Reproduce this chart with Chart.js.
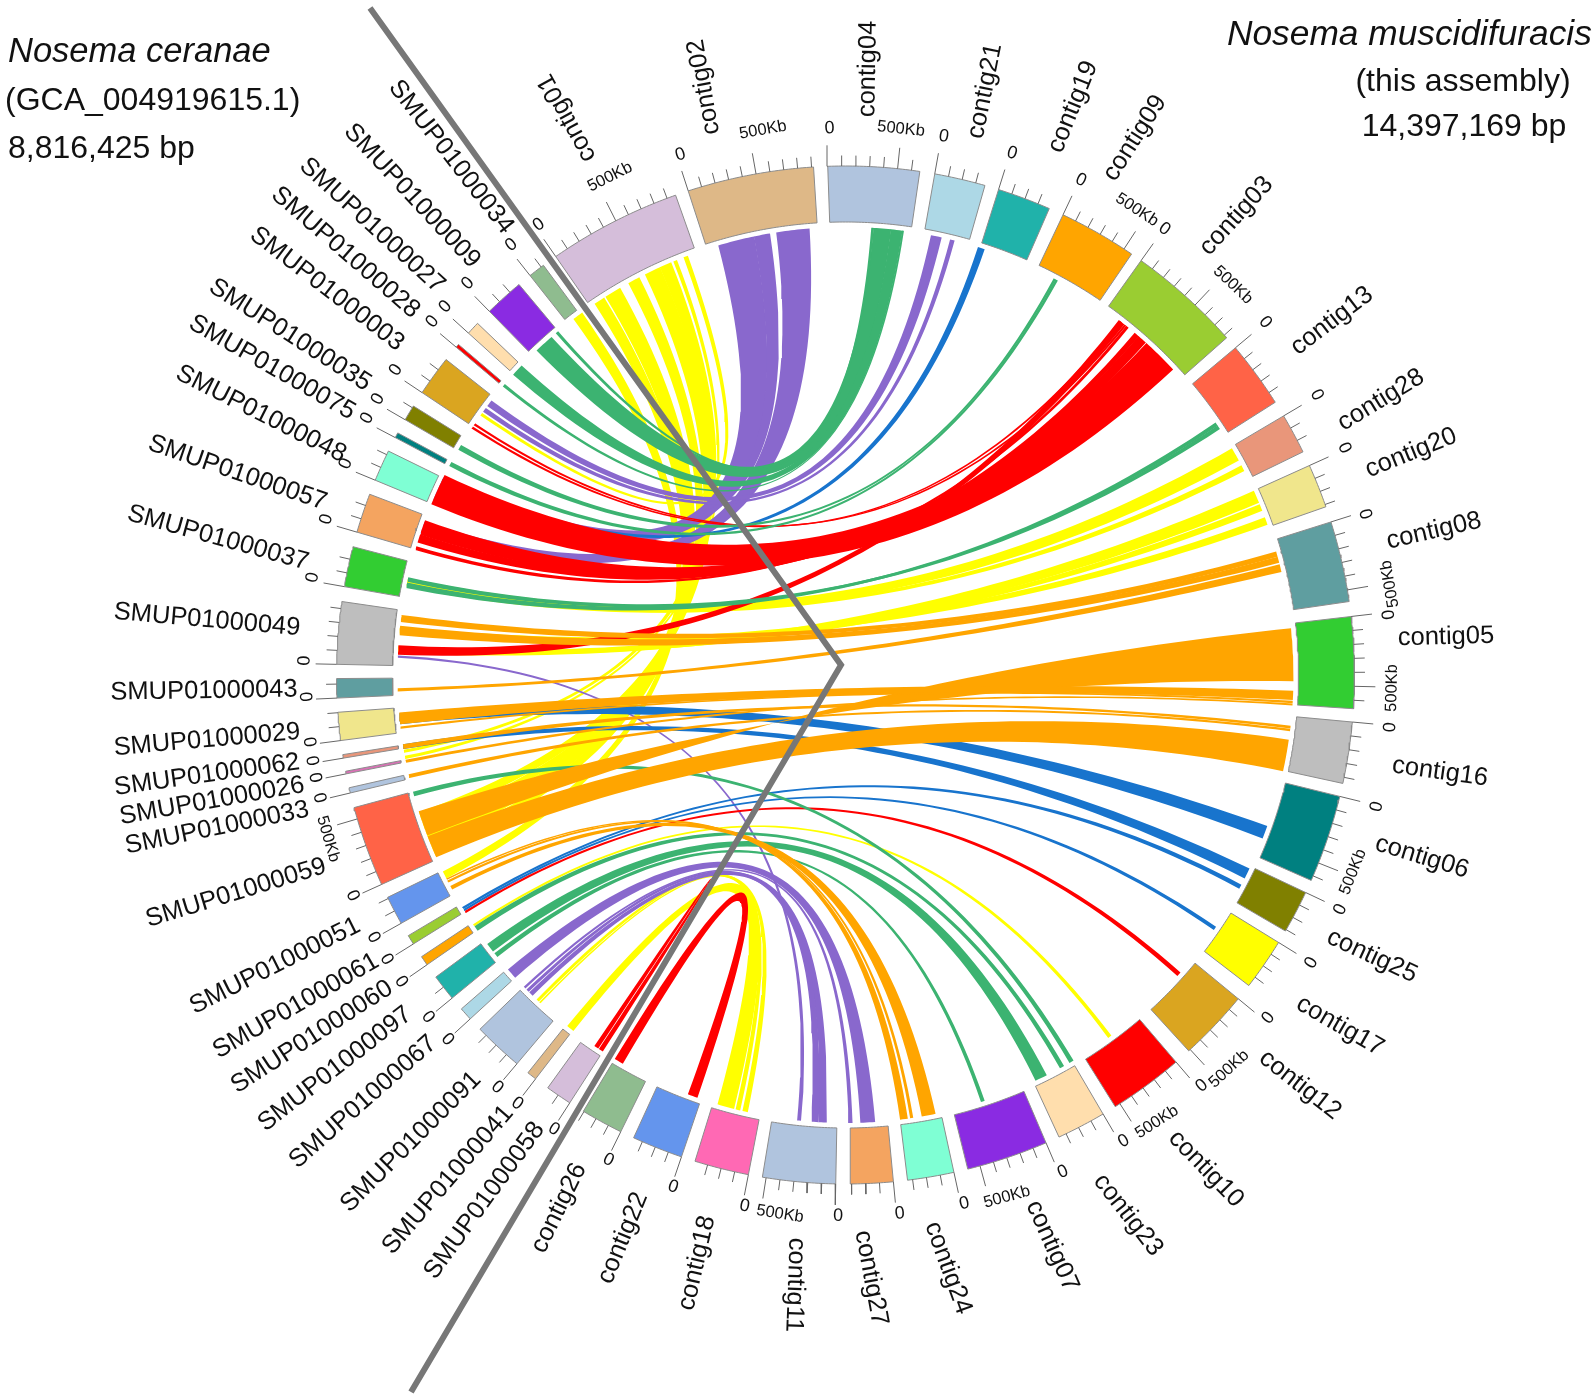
<!DOCTYPE html>
<html>
<head>
<meta charset="utf-8">
<script src="https://cdn.jsdelivr.net/npm/chart.js@4/dist/chart.umd.min.js"></script>
<style>
  html, body { margin: 0; padding: 0; background: #fff; }
  canvas { display: block; }
</style>
</head>
<body>
<canvas id="chart" width="1595" height="1394"></canvas>
<script>
// sectors, clockwise, angles in degrees from 12 o'clock
const sectorNames = ['contig01','contig02','contig04','contig21','contig19','contig09','contig03','contig13','contig28','contig20','contig08','contig05','contig16','contig06','contig25','contig17','contig12','contig10','contig23','contig07','contig24','contig27','contig11','contig18','contig22','contig26','SMUP01000058','SMUP01000041','SMUP01000091','SMUP01000067','SMUP01000097','SMUP01000060','SMUP01000061','SMUP01000051','SMUP01000059','SMUP01000033','SMUP01000026','SMUP01000062','SMUP01000029','SMUP01000043','SMUP01000049','SMUP01000037','SMUP01000057','SMUP01000048','SMUP01000075','SMUP01000035','SMUP01000003','SMUP01000028','SMUP01000027','SMUP01000009','SMUP01000034'];
const sectorStart = [-34.7,-18,-2,10.1,17.5,25.3,35.5,50,59.4,65.7,72.5,83.4,95.3,103.8,115.3,121.7,129.5,139.5,149.6,156.8,167.7,174.6,181.1,191,198.8,206.2,212.8,217.5,220.2,227.5,230.6,235.3,238.1,240.8,245.7,256.6,258.8,260.6,262.6,267.4,271.2,280,286.3,292.5,297.8,300.1,303.7,310.1,312.2,315.6,321.7];
const sectorEnd = [-19.5,-3.6,8.4,15.9,23.6,34.2,48.5,57.6,64,70.7,81.7,93.8,102.3,113.8,120.2,127.6,137.6,148,155.2,166.1,173,179.4,189.4,197.2,204.6,211,215.8,218.6,225.9,229,233.6,236.4,239.2,244.1,254.9,257.2,259.1,261,265.8,269.6,278.3,284.6,290.8,296.1,298.4,301.9,308.3,310.5,313.7,320.1,323.6];
const sectorColors = ['#D5BEDA','#DEB887','#B0C4DE','#ADD8E6','#20B2AA','#FFA500','#9ACD32','#FF6347','#E9967A','#F0E68C','#5F9EA0','#32CD32','#BEBEBE','#008080','#808000','#FFFF00','#DAA520','#FF0000','#FFDEAD','#8A2BE2','#7FFFD4','#F4A460','#B0C4DE','#FF69B4','#6495ED','#8FBC8F','#D5BEDA','#DEB887','#B0C4DE','#ADD8E6','#20B2AA','#FFA500','#9ACD32','#6495ED','#FF6347','#B0C4DE','#DA70B6','#E9967A','#F0E68C','#5F9EA0','#BEBEBE','#32CD32','#F4A460','#7FFFD4','#008080','#808000','#DAA520','#FF0000','#FFDEAD','#8A2BE2','#8FBC8F'];

// links: [from start, from end, to start, to end, twisted?], degrees
const yellowLinks = [
  [-34.06,-32.6,246.2,247.6],[-32.4,-30.2,247.8,249.6],[-29,-27.4,249.8,250.8],[-26.6,-24.45,251,252.2],
  [-24.5,-22.9,260,260.4],[-22.6,-22.1,259.2,259.6],[-21.2,-20.6,305.4,305.8],[322.6,324,243,244],
  [59.6,61.4,281.3,282.5],[62.1,62.9,281.6,282.2],[65.7,67.4,272.8,273.6],[67.6,68.5,273,273.7],[69.4,70.4,275.3,276.2],
  [143.6,144.1,235.9,236.2],[192.6,193.3,222.9,223.1],[193.6,194.2,223.2,223.6],[194.4,196.6,217.4,218.4]
];
const purpleLinks = [
  [-16.5,-11.75,293,295.4],[-11.8,-9.7,295.5,296.2],[-8.9,-4.6,288.4,290],[11,12.4,306.9,307.8],[13.5,14.1,306,306.6],
  [185.7,186.2,272.2,272.5],[182.4,183.5,224.3,224.9],[183.45,184.4,225,225.4],[176.2,178.1,227.5,228.9],[179.1,179.6,225.6,225.9]
];
const blueLinks = [
  [17.2,18.1,295.6,296.1],[109.7,111.4,263.7,265.1],[115.6,117,260.5,261.1],[117.9,118.5,238.5,238.8],[124.2,124.7,238.2,238.5]
];
const redLinks = [
  [37.6,38.5,272.6,273.8],[38.5,38.8,303.9,304.2],[37.8,38.1,303.4,303.7],[38.8,39.2,286.2,286.7],[40.2,40.9,287.2,288.3],
  [40.85,42.1,288.25,290.2],[42.2,47,292.4,296.5],[131.6,132.2,237.9,238.2],[199.3,200.6,209.8,211],[212.8,213.4,213.5,214.1]
];
const greenLinks = [
  [3.6,5.85,316.4,319],[3.3,3.65,319.7,320.1],[5.8,7.3,312.1,313.7],[7.25,7.5,310.1,310.5],[27.7,28,300.2,300.9],[27.95,28.3,297.8,298.4],
  [55.7,56.2,281.2,281.9],[56.15,56.7,282,282.6],[149.4,150,254.3,254.9],[150.8,151.4,235.2,235.9],[153.3,154.9,231.9,233.1],[161.9,162.4,231,231.6]
];
const orangeLinks = [
  [74,74.7,276.8,277.7],[74.7,75.5,275.1,276.3],[75.7,76.7,267.9,268.3],[84,90.8,249,252.3,1],[98.3,102.4,246,248.9],
  [92,93.2,263.7,265.2],[93.3,93.6,263.1,263.4],[93.65,93.9,258.7,259.1],[96.5,96.85,260.5,261.1],[96.9,97.2,256.7,257.2],
  [168.4,170.2,241.4,241.9],[171.3,171.7,242.4,242.7],[172,173,242.8,243]
];

// hand placed divider between the two genomes
const dividerX = [370, 841, 411];
const dividerY = [8, 665, 1392];

const titleLines = [
  ['Nosema ceranae', 8, 62, 'italic 34.5px', 'left'],
  ['(GCA_004919615.1)', 5, 110, '32px', 'left'],
  ['8,816,425 bp', 8, 158, '32px', 'left'],
  ['Nosema muscidifuracis', 1227, 45, 'italic 35.3px', 'left'],
  ['(this assembly)', 1463, 91, '32px', 'center'],
  ['14,397,169 bp', 1464, 136, '32px', 'center']
];
// label centre x, y, rotation for each sector, same order as sectorNames
const labelPlace = [
  [567,118,-118.6],[704,87,-100],[868,69,-89],[985,91,-78.7],[1073,107,-68],[1135,138,-57.4],[1236.5,216,-47.7],[1332,321,-37.4],[1381,400,-31.5],[1411,453,-22],[1434,531,-13],[1446,637,-1.5],[1440,772,8],[1422,857,17],[1372,956,24.8],[1340,1026,30],[1300,1085,38],[1206,1169,46],[1128,1215,52],[1052,1246,66],[948,1268,70],[871,1278,79.5],[795,1285,92],[697,1263,-77],[623,1238,-67.8],[559,1208,-64],
  [484.5,1200.6,-54],[448,1180,-49.4],[411,1142,-45],[363,1102,-41.4],[335,1069,-37.8],[312,1037,-33],[296,1006,-30],[275,966,-26.6],[236,893,-17],[217,828,-11.5],[212,801,-10],[207,775,-8],[207,740,-5],[204,691,-1],[207,620,5],[218,538,15.5],[237.5,473,18.9],[261,414,26.8],[272,367.5,29.7],[290,335,32.6],[327,289,37.6],[345.5,252.5,40.8],[372,225.5,42.5],[412,196,47],[451,157,52.1]
];
// 500Kb labels sit a little away from their ticks in the original
const kbPlace = {
  contig01: [610,177], contig02: [763,130], contig04: [901,129], contig09: [1137,210], contig03: [1233,285],
  contig08: [1390,584], contig05: [1392,688], contig06: [1353,872], contig12: [1229,1069], contig10: [1157,1122],
  contig07: [1007,1197], contig11: [780,1214], SMUP01000059: [328,839]
};

const CX = 845.5, CY = 675, R_OUT = 509, R_IN = 453, R_LINK = 448;
const DEG_100KB = 1.575;
const CTRL = 0.09 * R_LINK;

const polar = (deg, r) => {
  const a = deg * Math.PI / 180;
  return { x: CX + r * Math.sin(a), y: CY - r * Math.cos(a) };
};
const arc = (a1, a2, r) => {
  const pts = [];
  const n = Math.max(2, Math.ceil(Math.abs(a2 - a1) / 0.4));
  for (let i = 0; i <= n; i++) pts.push(polar(a1 + (a2 - a1) * i / n, r));
  return pts;
};
const shortDiff = (p, q) => ((q - p + 540) % 360) - 180;

function bend(p, q, lift) {
  const d = shortDiff(p, q);
  const ctrlR = CTRL * Math.max(0, 1 - Math.abs(d) / 110) + lift;
  const P = polar(p, R_LINK), Q = polar(q, R_LINK), C = polar(p + d / 2, ctrlR);
  const pts = [];
  for (let i = 1; i < 60; i++) {
    const t = i / 60, u = 1 - t;
    pts.push({ x: u * u * P.x + 2 * u * t * C.x + t * t * Q.x, y: u * u * P.y + 2 * u * t * C.y + t * t * Q.y });
  }
  return pts;
}

function ribbon([a1, a2, b1, b2, twisted]) {
  if (twisted) {
    const pts = [...arc(a1, a2, R_LINK), ...bend(a2, b2, 0), ...arc(b2, b1, R_LINK), ...bend(b1, a1, 0)];
    pts.push(pts[0]);
    return pts;
  }
  const wide = ((a2 - a1) + (b2 - b1)) / 2 * Math.PI / 180 * R_LINK;
  const span1 = Math.abs(shortDiff(a2, b1)), span2 = Math.abs(shortDiff(b2, a1));
  const span = Math.min(span1, span2);
  const lift = Math.max(0.3, 2 * (1 - span / 60)) * wide;
  const pts = [...arc(a1, a2, R_LINK), ...bend(a2, b1, span1 < span2 ? lift : 0), ...arc(b1, b2, R_LINK), ...bend(b2, a1, span2 < span1 ? lift : 0)];
  pts.push(pts[0]);
  return pts;
}

const shape = (data, fillColor, extra = {}) => ({
  data, showLine: true, fill: 'shape', pointRadius: 0, borderWidth: 0,
  backgroundColor: fillColor, borderColor: fillColor, ...extra
});

const datasets = [];
[[yellowLinks, '#FFFF00'], [purpleLinks, '#8968CD'], [blueLinks, '#1874CD'], [redLinks, '#FF0000'], [greenLinks, '#3CB371'], [orangeLinks, '#FFA500']]
  .forEach(([links, color]) => links.forEach(l => datasets.push(shape(ribbon(l), color))));

sectorNames.forEach((_, i) => {
  const a1 = sectorStart[i], a2 = sectorEnd[i];
  const pts = [...arc(a1, a2, R_OUT), ...arc(a2, a1, R_IN)];
  pts.push(pts[0]);
  datasets.push(shape(pts, sectorColors[i], { borderWidth: 1, borderColor: '#8c8c8c' }));
});

// axis ticks: one dataset, segments split by NaN
const tickPts = [];
sectorNames.forEach((_, i) => {
  const span = sectorEnd[i] - sectorStart[i];
  for (let k = 0; k * DEG_100KB <= span; k++) {
    const deg = sectorStart[i] + k * DEG_100KB;
    const len = k % 5 === 0 ? 21 : 10.5;
    tickPts.push(polar(deg, R_OUT), polar(deg, R_OUT + len), { x: NaN, y: NaN });
  }
});
datasets.push({ data: tickPts, showLine: true, pointRadius: 0, borderWidth: 1, borderColor: '#666', spanGaps: false });

datasets.push({
  data: dividerX.map((x, i) => ({ x, y: dividerY[i] })),
  showLine: true, pointRadius: 0, borderWidth: 6, borderColor: '#777', borderJoinStyle: 'miter'
});
datasets.forEach((d, i) => { d.order = -i; });

const textPlugin = {
  id: 'circosText',
  afterDatasetsDraw(chart) {
    const { ctx, scales: { x, y } } = chart;
    const put = (s, px, py, rot, font, align = 'center', base = 'middle') => {
      ctx.save();
      ctx.translate(x.getPixelForValue(px), y.getPixelForValue(py));
      ctx.rotate(rot * Math.PI / 180);
      ctx.font = font + ' "Liberation Sans", Arial, sans-serif';
      ctx.fillStyle = '#111';
      ctx.textAlign = align;
      ctx.textBaseline = base;
      ctx.fillText(s, 0, 0);
      ctx.restore();
    };
    const tilt = deg => {
      const n = ((deg + 180) % 360 + 360) % 360 - 180;
      return (n > -90 && n < 72) ? n : n - 180;
    };
    sectorNames.forEach((name, i) => {
      const [lx, ly, rot] = labelPlace[i];
      put(name, lx, ly, rot, '25.5px');
      const deg0 = sectorStart[i];
      const p0 = polar(deg0, 544);
      put('0', p0.x + 3, p0.y + (deg0 > 70 && deg0 < 125 ? 2 : -3), tilt(deg0), '18px');
      if (kbPlace[name]) {
        put('500Kb', kbPlace[name][0], kbPlace[name][1], tilt(deg0 + 5 * DEG_100KB), '16.5px');
      }
    });
    titleLines.forEach(([s, px, py, font, align]) => put(s, px, py, 0, font, align, 'alphabetic'));
  }
};

new Chart(document.getElementById('chart'), {
  type: 'scatter',
  data: { datasets },
  options: {
    responsive: false,
    animation: false,
    devicePixelRatio: 1,
    layout: { padding: 0 },
    plugins: { legend: { display: false }, tooltip: { enabled: false }, title: { display: false } },
    scales: {
      x: { type: 'linear', min: 0, max: 1595, display: false },
      y: { type: 'linear', min: 0, max: 1394, reverse: true, display: false }
    }
  },
  plugins: [textPlugin]
});
</script>
</body>
</html>
